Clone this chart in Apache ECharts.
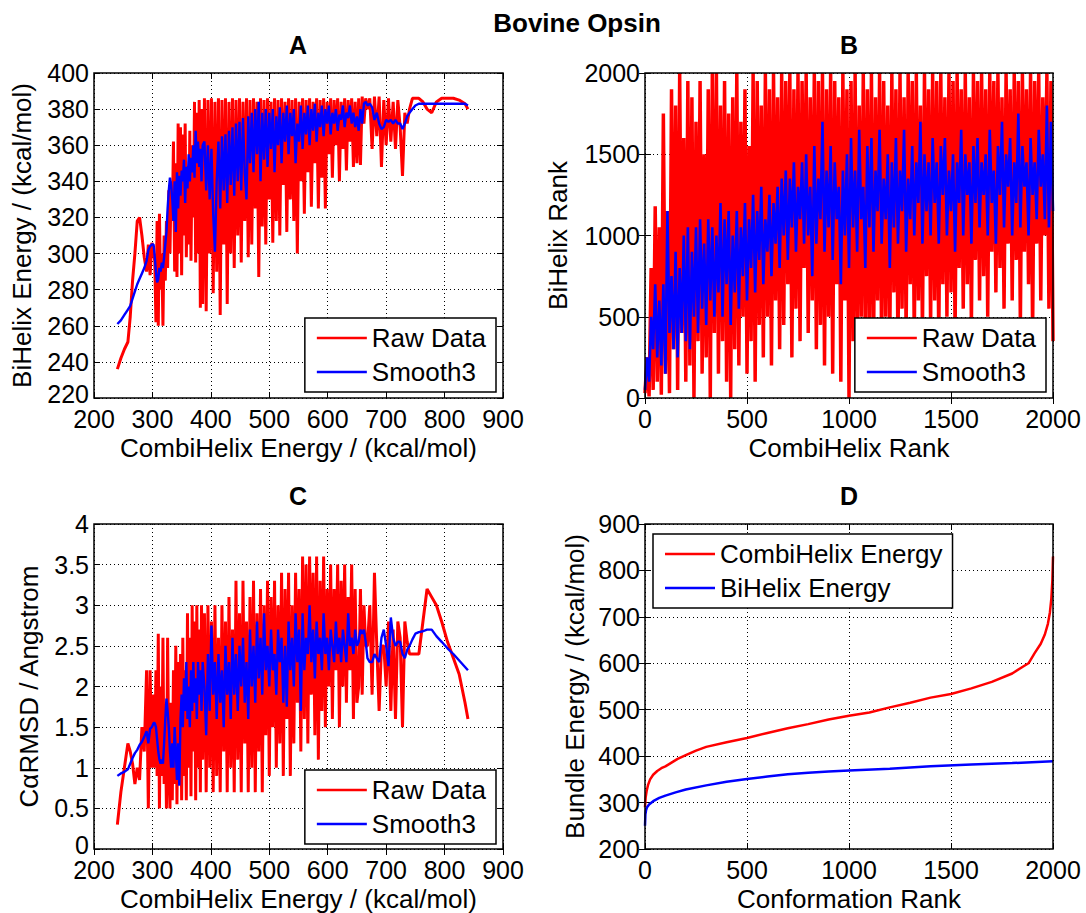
<!DOCTYPE html>
<html>
<head>
<meta charset="utf-8">
<title>Bovine Opsin</title>
<script src="https://cdn.jsdelivr.net/npm/echarts@6/dist/echarts.min.js"></script>
<style>
  html, body { margin: 0; padding: 0; background: #fff; }
  #main { width: 1086px; height: 913px; }
</style>
</head>
<body>
<div id="main"></div>
<script>
// CombiHelix energy of each conformation, sorted (x of panels A and C)
let combiEnergy = [
  // 240-302
  240, 246, 252, 258, 262, 266, 270, 274, 278, 282, 286, 290, 293, 296, 299, 302,
  // 304-386
  304, 306, 308, 310, 312, 314, 316, 318, 320, 322, 324, 326, 328, 330, 332, 334, 336, 338, 340, 342,
  344, 346, 348, 350, 352, 354, 356, 358, 360, 362, 364, 366, 368, 370, 372, 374, 376, 378, 380, 382, 384, 386,
  // 389-650
  389, 392, 395, 398, 401, 404, 407, 410, 413, 416,
  419, 422, 425, 428, 431, 434, 437, 440, 443, 446,
  449, 452, 455, 458, 461, 464, 467, 470, 473, 476,
  479, 482, 485, 488, 491, 494, 497, 500, 503, 506,
  509, 512, 515, 518, 521, 524, 527, 530, 533, 536,
  539, 542, 545, 548, 551, 554, 557, 560, 563, 566,
  569, 572, 575, 578, 581, 584, 587, 590, 593, 596,
  599, 602, 605, 608, 611, 614, 617, 620, 623, 626,
  629, 632, 635, 638, 641, 644, 647, 650,
  // 653-840
  653, 656, 659, 662, 665, 668, 672, 676, 680, 684,
  688, 692, 696, 700, 704, 708, 712, 716, 720, 724,
  728, 732, 736, 740, 745, 750, 756, 763, 770, 778,
  786, 795, 805, 815, 825, 835, 840
];

// panel A: BiHelix energy
let biEnergyRaw = [
  236, 242, 247, 251, 265, 285, 300, 318, 320, 310, 298, 290, 305, 288, 306, 300,
  296, 262, 318, 260, 322, 280, 300, 260, 310, 285, 318, 292, 335, 300, 340, 318, 362, 290, 350, 287,
  372, 300, 370, 288, 366, 310, 372, 298, 345, 305, 368, 296, 360, 320, 384, 295, 378, 300, 385, 270, 380, 272,
  386, 268, 385, 300, 386, 278, 384, 290, 386, 266,
  385, 305, 386, 272, 384, 300, 386, 292, 385, 310,
  386, 295, 384, 318, 386, 298, 385, 305, 386, 325,
  384, 287, 386, 315, 385, 305, 386, 330, 384, 306,
  386, 318, 385, 310, 386, 338, 384, 312, 386, 330,
  385, 318, 386, 300, 384, 340, 386, 322, 385, 345,
  386, 326, 384, 350, 386, 325, 385, 342, 386, 325,
  384, 355, 386, 342, 385, 360, 386, 340, 384, 358,
  386, 346, 385, 362, 386, 348, 384, 350,
  386, 349, 387, 372, 386, 380, 386, 358, 387, 365,
  387, 348, 385, 360, 386, 362, 384, 358, 385, 370,
  343, 378, 372, 380, 386, 386, 386, 384, 380, 378,
  384, 386, 386, 386, 385, 383, 380
];
let biEnergySmooth = [
  261, 263, 266, 269, 271, 275, 279, 283, 286, 289, 292, 296, 302, 304, 305, 305,
  298, 290, 284, 286, 292, 290, 295, 292, 298, 305, 312, 325, 335, 342, 338, 330, 318, 340, 312, 345,
  325, 343, 332, 346, 340, 352, 328, 348, 336, 355, 340, 353, 345, 360, 342, 368, 350, 362, 348, 358, 340, 360,
  362, 335, 360, 330, 358, 322, 301, 340, 362, 325,
  365, 335, 366, 328, 368, 338, 370, 332, 372, 340,
  373, 335, 375, 345, 330, 376, 350, 378, 345, 380,
  355, 384, 340, 378, 352, 380, 348, 378, 358, 380,
  345, 376, 360, 381, 350, 378, 362, 382, 355, 378,
  365, 380, 350, 372, 362, 382, 358, 378, 366, 382,
  360, 380, 368, 383, 362, 378, 370, 382, 365, 380,
  372, 382, 366, 378, 372, 380, 368, 377, 374, 382,
  370, 378, 375, 382, 372, 378, 370, 376,
  368, 380, 372, 383, 384, 382, 383, 381, 374, 378,
  372, 369, 370, 374, 373, 374, 372, 374, 372, 372,
  369, 372, 376, 378, 380, 382, 383, 383, 383, 383,
  383, 383, 383, 383, 383, 383, 382
];

// panel C: C-alpha RMSD
let rmsdRaw = [
  0.3, 0.7, 1.0, 1.3, 1.2, 1.05, 0.8, 1.0, 0.85, 1.5, 1.2, 2.2, 0.5, 2.2, 1.0, 1.9,
  1.0, 2.2, 0.9, 2.65, 0.5, 2.0, 0.9, 2.6, 0.8, 1.6, 0.5, 2.6, 1.0, 0.5, 1.8, 0.6, 2.2, 0.8, 2.5, 0.55,
  2.3, 0.8, 2.4, 0.6, 2.6, 0.9, 2.2, 0.6, 2.9, 1.0, 2.6, 0.65, 3.0, 1.2, 2.8, 0.6, 3.0, 1.0, 2.7, 0.7, 3.0, 1.1,
  2.9, 0.7, 3.0, 1.0, 2.8, 0.7, 3.0, 0.9, 2.6, 0.7,
  3.0, 1.2, 2.8, 0.7, 3.1, 1.0, 2.7, 0.7, 3.3, 1.1,
  2.9, 0.7, 3.3, 1.3, 2.8, 0.7, 3.1, 1.0, 3.3, 0.7,
  2.9, 1.2, 3.2, 0.7, 3.0, 1.4, 3.3, 0.9, 3.1, 1.5,
  3.3, 1.0, 3.0, 1.3, 3.4, 0.9, 3.2, 1.6, 3.4, 0.9,
  3.0, 1.3, 3.4, 1.8, 3.2, 1.2, 3.6, 1.6, 3.5, 1.3,
  3.6, 1.9, 3.4, 1.4, 3.6, 1.1, 3.3, 1.7, 3.6, 1.5,
  3.2, 2.0, 3.5, 1.6, 3.2, 2.2, 3.5, 1.5, 3.3, 2.0,
  3.5, 1.8, 3.1, 2.2, 3.5, 1.6, 3.2, 1.8,
  2.0, 3.2, 1.9, 3.0, 2.5, 2.5, 3.0, 1.9, 3.4, 2.5,
  1.7, 2.5, 2.5, 2.0, 2.8, 1.7, 2.7, 1.6, 2.8, 2.6,
  1.5, 2.8, 2.55, 2.4, 2.4, 2.4, 2.4, 2.8, 3.2, 3.1,
  3.0, 2.8, 2.55, 2.35, 2.15, 1.8, 1.6
];
let rmsdSmooth = [
  0.9, 0.93, 0.95, 0.98, 1.05, 1.12, 1.18, 1.22, 1.28, 1.32, 1.38, 1.45, 1.3, 1.48, 1.5, 1.55,
  1.55, 1.5, 1.35, 1.2, 1.1, 1.05, 1.1, 1.05, 1.3, 1.6, 1.85, 1.7, 1.5, 1.2, 1.0, 1.3, 1.0, 1.5, 1.2, 0.85,
  1.3, 0.78, 1.6, 1.9, 1.5, 2.1, 1.7, 2.3, 1.6, 2.0, 1.5, 2.2, 1.7, 2.3, 1.8, 2.1, 1.6, 2.3, 1.9, 2.2, 1.7, 2.3,
  2.0, 1.4, 2.4, 1.7, 2.75, 1.9, 2.3, 1.6, 2.4, 1.8,
  2.2, 1.5, 2.5, 1.9, 2.3, 1.6, 2.6, 1.9, 2.4, 1.7,
  2.5, 2.0, 2.6, 1.8, 2.3, 1.6, 2.7, 2.0, 2.5, 1.8,
  2.8, 2.1, 2.6, 1.9, 2.9, 2.2, 2.5, 2.0, 2.7, 2.2,
  2.4, 1.9, 2.7, 2.3, 2.6, 1.8, 2.5, 1.75, 2.8, 2.2,
  2.6, 2.0, 2.9, 2.3, 2.7, 1.7, 2.9, 2.2, 2.6, 2.4,
  3.0, 2.3, 2.7, 2.1, 2.8, 2.4, 2.6, 2.2, 2.9, 2.4,
  2.6, 2.2, 2.7, 2.5, 2.3, 2.8, 2.4, 2.6, 2.3, 2.7,
  2.5, 2.3, 2.9, 2.5, 2.6, 2.4, 2.7, 2.5,
  2.55, 2.7, 2.65, 2.7, 2.55, 2.35, 2.3, 2.3, 2.4, 2.35,
  2.3, 2.6, 2.7, 2.5, 2.25, 2.85, 2.6, 2.5, 2.55, 2.55,
  2.4, 2.35, 2.45, 2.5, 2.58, 2.65, 2.67, 2.68, 2.7, 2.7,
  2.62, 2.55, 2.47, 2.4, 2.32, 2.24, 2.2
];

// panel B: rank vs rank
let combiRank = [
  0, 10, 20, 30, 40, 50, 60, 70, 80, 90,
  100, 110, 120, 130, 140, 150, 160, 170, 180, 190,
  200, 210, 220, 230, 240, 250, 260, 270, 280, 290,
  300, 310, 320, 330, 340, 350, 360, 370, 380, 390,
  400, 410, 420, 430, 440, 450, 460, 470, 480, 490,
  500, 510, 520, 530, 540, 550, 560, 570, 580, 590,
  600, 610, 620, 630, 640, 650, 660, 670, 680, 690,
  700, 710, 720, 730, 740, 750, 760, 770, 780, 790,
  800, 810, 820, 830, 840, 850, 860, 870, 880, 890,
  900, 910, 920, 930, 940, 950, 960, 970, 980, 990,
  1000, 1010, 1020, 1030, 1040, 1050, 1060, 1070, 1080, 1090,
  1100, 1110, 1120, 1130, 1140, 1150, 1160, 1170, 1180, 1190,
  1200, 1210, 1220, 1230, 1240, 1250, 1260, 1270, 1280, 1290,
  1300, 1310, 1320, 1330, 1340, 1350, 1360, 1370, 1380, 1390,
  1400, 1410, 1420, 1430, 1440, 1450, 1460, 1470, 1480, 1490,
  1500, 1510, 1520, 1530, 1540, 1550, 1560, 1570, 1580, 1590,
  1600, 1610, 1620, 1630, 1640, 1650, 1660, 1670, 1680, 1690,
  1700, 1710, 1720, 1730, 1740, 1750, 1760, 1770, 1780, 1790,
  1800, 1810, 1820, 1830, 1840, 1850, 1860, 1870, 1880, 1890,
  1900, 1910, 1920, 1930, 1940, 1950, 1960, 1970, 1980, 1990,
  2000
];
let biRankRaw = [
  30, 250, 10, 800, 50, 1180, 100, 1050, 20, 1750,
  150, 1150, 30, 1900, 300, 1800, 50, 2000, 400, 1600,
  100, 1950, 200, 1850, 0, 1700, 350, 1950, 150, 1500,
  250, 1900, 0, 2000, 400, 2000, 150, 1800, 350, 1950,
  100, 1750, 0, 1850, 300, 2000, 200, 1700, 500, 1900,
  150, 1550, 350, 2000, 100, 1950, 450, 1800, 250, 2000,
  500, 1900, 200, 2000, 600, 1850, 300, 2000, 450, 1950,
  700, 2000, 250, 1900, 550, 2000, 350, 1950, 800, 2000,
  400, 1850, 600, 2000, 300, 1950, 450, 2000, 200, 1900,
  500, 2000, 150, 1950, 700, 1850, 100, 2000, 600, 1900,
  0, 1950, 350, 2000, 250, 1800, 500, 2000, 300, 1900,
  450, 2000, 250, 1850, 600, 2000, 300, 1950, 500, 1800,
  350, 2000, 650, 1900, 300, 2000, 550, 1850, 400, 2000,
  700, 1950, 350, 2000, 600, 1800, 400, 2000, 750, 1900,
  450, 2000, 600, 1950, 350, 2000, 700, 1850, 500, 2000,
  650, 1950, 400, 2000, 800, 1900, 550, 2000, 700, 1850,
  450, 2000, 850, 1950, 600, 2000, 750, 1900, 500, 2000,
  900, 1950, 650, 2000, 800, 1850, 550, 2000, 950, 1900,
  600, 2000, 850, 1950, 450, 2000, 900, 1900, 700, 2000,
  400, 1950, 950, 2000, 600, 1850, 1000, 2000, 550, 1950,
  350
];
let biRankSmooth = [
  50, 250, 100, 500, 300, 700, 250, 600, 200, 700,
  150, 1150, 400, 750, 300, 900, 250, 800, 400, 1000,
  350, 1050, 300, 900, 500, 1050, 400, 1100, 550, 950,
  450, 1100, 600, 1050, 500, 1000, 650, 1200, 500, 1100,
  700, 1150, 450, 1000, 650, 1150, 550, 1050, 750, 1200,
  600, 1100, 800, 1250, 650, 1150, 850, 1300, 700, 1100,
  900, 1250, 750, 1200, 950, 1300, 800, 1350, 1000, 1400,
  850, 1350, 1050, 1450, 900, 1300, 1100, 1450, 950, 1500,
  1000, 1300, 750, 1550, 950, 1350, 1100, 1700, 900, 1400,
  1050, 1550, 850, 1450, 1100, 1300, 700, 1400, 1000, 1500,
  800, 1600, 1050, 1400, 900, 1650, 1100, 1300, 800, 1550,
  1050, 1600, 900, 1400, 1150, 1650, 950, 1350, 1100, 1500,
  800, 1450, 1050, 1600, 950, 1400, 1150, 1650, 900, 1350,
  1100, 1550, 1000, 1450, 1200, 1700, 950, 1500, 1150, 1450,
  1000, 1600, 1200, 1450, 950, 1550, 1250, 1600, 1000, 1400,
  1150, 1500, 900, 1450, 1200, 1650, 1000, 1500, 1250, 1450,
  950, 1550, 1200, 1600, 1050, 1450, 1250, 1500, 1000, 1650,
  1200, 1400, 950, 1550, 1250, 1700, 1050, 1500, 1300, 1600,
  1000, 1450, 1200, 1750, 1050, 1550, 1300, 1450, 1000, 1600,
  1250, 1450, 1100, 1650, 1300, 1500, 1100, 1800, 1050, 1700,
  1150
];

// panel D: sorted energies vs conformation rank
let rankCombi = [0, 3, 8, 15, 25, 40, 60, 80, 100, 130, 160, 200, 250, 300, 400, 500, 600, 700, 800, 900,
  1000, 1100, 1200, 1300, 1400, 1500, 1600, 1700, 1800, 1850, 1880, 1910, 1940, 1960, 1975, 1985, 1992, 1997, 2000];
let combiSorted = [290, 310, 325, 338, 350, 360, 368, 374, 378, 386, 394, 402, 412, 420, 430, 439, 450, 460, 469, 479,
  487, 494, 505, 515, 526, 534, 546, 560, 578, 592, 600, 622, 642, 662, 685, 710, 740, 780, 830];
let rankBi = [0, 2, 5, 10, 20, 40, 70, 100, 150, 200, 300, 400, 500, 600, 700, 800, 900, 1000, 1200, 1400, 1600, 1800, 2000];
let biSorted = [250, 275, 283, 290, 296, 303, 310, 315, 322, 328, 337, 345, 351, 356, 361, 364, 367, 369, 373, 378, 382, 385, 389];

let FONT = '"Liberation Sans", Arial, Helvetica, sans-serif';
let RED = '#ff0000';
let BLUE = '#0000ff';

let chart = echarts.init(document.querySelector('#main'), null, { renderer: 'svg' });

let pairs = (xs, ys) => xs.map((x, i) => [x, ys[i]]);

let line = (name, idx, xs, ys, color, width) => ({
  name: name,
  type: 'line',
  xAxisIndex: idx,
  yAxisIndex: idx,
  data: pairs(xs, ys),
  symbol: 'none',
  lineStyle: { color: color, width: width },
  itemStyle: { color: color },
  silent: true
});

// liftMin: nudge the lowest tick label up a little so it clears the x labels
let axis = (idx, pos, min, max, interval, name, gap, liftMin) => {
  let main = pos == 'bottom' || pos == 'left';
  return {
    type: 'value',
    gridIndex: idx,
    position: pos,
    min: min,
    max: max,
    interval: interval,
    name: main ? name : '',
    nameLocation: 'middle',
    nameGap: gap,
    nameTextStyle: { fontSize: 26, color: '#000', fontFamily: FONT },
    axisLine: { show: false },
    axisTick: { show: true, inside: true, length: 6, lineStyle: { color: '#000', width: 1 } },
    axisLabel: {
      show: main,
      fontSize: 25,
      lineHeight: 18,
      color: '#000',
      fontFamily: FONT,
      margin: pos == 'bottom' ? 12 : 5,
      showMinLabel: true,
      showMaxLabel: true,
      formatter: v => (liftMin && v == min) ? '{lo|' + v + '}' : String(v),
      rich: { lo: { fontSize: 25, lineHeight: 18, color: '#000', fontFamily: FONT, padding: [0, 0, 8, 0] } }
    },
    splitLine: { show: main, lineStyle: { color: '#000', type: [1, 3], width: 1 } }
  };
};

let legendBase = {
  orient: 'vertical',
  backgroundColor: '#fff',
  borderColor: '#000',
  borderWidth: 1.5,
  padding: [7, 10, 7, 12],
  itemGap: 8,
  itemWidth: 50,
  itemHeight: 2.5,
  icon: 'rect',
  selectedMode: false,
  textStyle: { fontSize: 26, color: '#000', fontFamily: FONT }
};

let titleStyle = (text, x, y, size) => ({
  text: text,
  left: x,
  top: y,
  padding: 0,
  textAlign: 'center',
  textVerticalAlign: 'middle',
  textStyle: { fontSize: size, fontWeight: 'bold', color: '#000', fontFamily: FONT }
});

let gridBase = { show: true, z: 10, backgroundColor: 'transparent', borderColor: '#000', borderWidth: 1.5 };

chart.setOption({
  animation: false,
  backgroundColor: '#fff',
  title: [
    titleStyle('Bovine Opsin', 577, 23, 26),
    titleStyle('A', 298, 45, 25),
    titleStyle('B', 849, 45, 25),
    titleStyle('C', 298, 496, 25),
    titleStyle('D', 849, 496, 25)
  ],
  grid: [
    Object.assign({ left: 94, top: 73, width: 409, height: 325 }, gridBase),
    Object.assign({ left: 645, top: 73, width: 408, height: 325 }, gridBase),
    Object.assign({ left: 94, top: 524, width: 409, height: 325 }, gridBase),
    Object.assign({ left: 645, top: 524, width: 408, height: 325 }, gridBase)
  ],
  xAxis: [
    axis(0, 'bottom', 200, 900, 100, 'CombiHelix Energy / (kcal/mol)', 37),
    axis(1, 'bottom', 0, 2000, 500, 'CombiHelix Rank', 37),
    axis(2, 'bottom', 200, 900, 100, 'CombiHelix Energy / (kcal/mol)', 37),
    axis(3, 'bottom', 0, 2000, 500, 'Conformation Rank', 37),
    axis(0, 'top', 200, 900, 100),
    axis(1, 'top', 0, 2000, 500),
    axis(2, 'top', 200, 900, 100),
    axis(3, 'top', 0, 2000, 500)
  ],
  yAxis: [
    axis(0, 'left', 220, 400, 20, 'BiHelix Energy / (kcal/mol)', 59, true),
    axis(1, 'left', 0, 2000, 500, 'BiHelix Rank', 74),
    axis(2, 'left', 0, 4, 0.5, 'C\u03b1RMSD / Angstrom', 52, true),
    axis(3, 'left', 200, 900, 100, 'Bundle Energy / (kcal/mol)', 57),
    axis(0, 'right', 220, 400, 20),
    axis(1, 'right', 0, 2000, 500),
    axis(2, 'right', 0, 4, 0.5),
    axis(3, 'right', 200, 900, 100)
  ],
  legend: [
    Object.assign({ right: 590, bottom: 521, data: ['Raw Data', 'Smooth3'] }, legendBase),
    Object.assign({ right: 40, bottom: 521, data: ['Raw Data', 'Smooth3'] }, legendBase),
    Object.assign({ right: 590, bottom: 69, data: ['Raw Data', 'Smooth3'] }, legendBase),
    Object.assign({ left: 653, top: 534, data: ['CombiHelix Energy', 'BiHelix Energy'] }, legendBase)
  ],
  series: [
    line('Raw Data', 0, combiEnergy, biEnergyRaw, RED, 3),
    line('Smooth3', 0, combiEnergy, biEnergySmooth, BLUE, 2.4),
    line('Raw Data', 1, combiRank, biRankRaw, RED, 3.5),
    line('Smooth3', 1, combiRank, biRankSmooth, BLUE, 2.6),
    line('Raw Data', 2, combiEnergy, rmsdRaw, RED, 3),
    line('Smooth3', 2, combiEnergy, rmsdSmooth, BLUE, 2.4),
    line('CombiHelix Energy', 3, rankCombi, combiSorted, RED, 2.5),
    line('BiHelix Energy', 3, rankBi, biSorted, BLUE, 2.5)
  ]
});
</script>
</body>
</html>
